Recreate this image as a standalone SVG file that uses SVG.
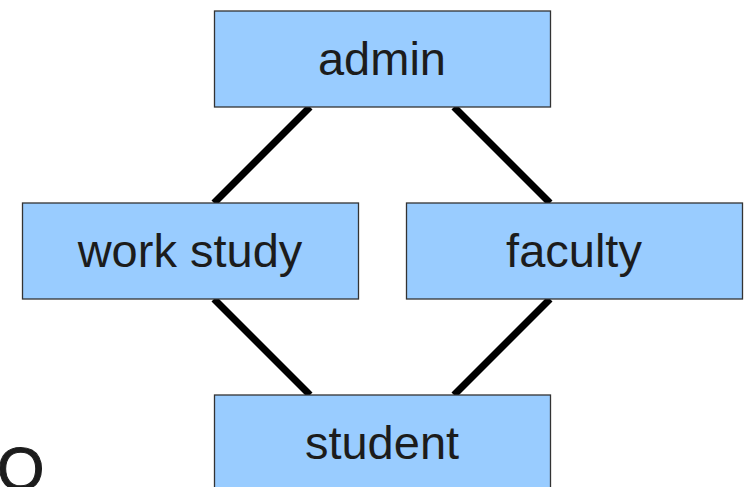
<svg xmlns="http://www.w3.org/2000/svg" width="747" height="487" viewBox="0 0 747 487">
<style>
.box{fill:#99ccff;stroke:#333333;stroke-width:1.3}
.lbl{font-family:"Liberation Sans",Arial,sans-serif;font-size:47px;fill:#1c1c1c;text-anchor:middle}
.conn{stroke:#000;stroke-width:7;fill:none}
</style>
<rect width="747" height="487" fill="#ffffff"/>
<g id="connectors">
<line class="conn" x1="310" y1="107" x2="214" y2="203"/>
<line class="conn" x1="454" y1="107" x2="550" y2="203"/>
<line class="conn" x1="214" y1="299" x2="310" y2="395"/>
<line class="conn" x1="550" y1="299" x2="454" y2="395"/>
</g>
<g id="admin">
<rect class="box" x="214.5" y="11" width="336" height="96"/>
<text class="lbl" x="382" y="75">admin</text>
</g>
<g id="workstudy">
<rect class="box" x="22.5" y="203" width="336" height="96"/>
<text class="lbl" x="190" y="267">work study</text>
</g>
<g id="faculty">
<rect class="box" x="406.5" y="203" width="336" height="96"/>
<text class="lbl" x="574" y="267">faculty</text>
</g>
<g id="student">
<rect class="box" x="214.5" y="395" width="336" height="96"/>
<text class="lbl" x="382" y="459">student</text>
</g>
<text x="-3" y="490" font-family="'Liberation Sans',Arial,sans-serif" font-size="61" fill="#1c1c1c" stroke="#1c1c1c" stroke-width="1">O</text>
</svg>
